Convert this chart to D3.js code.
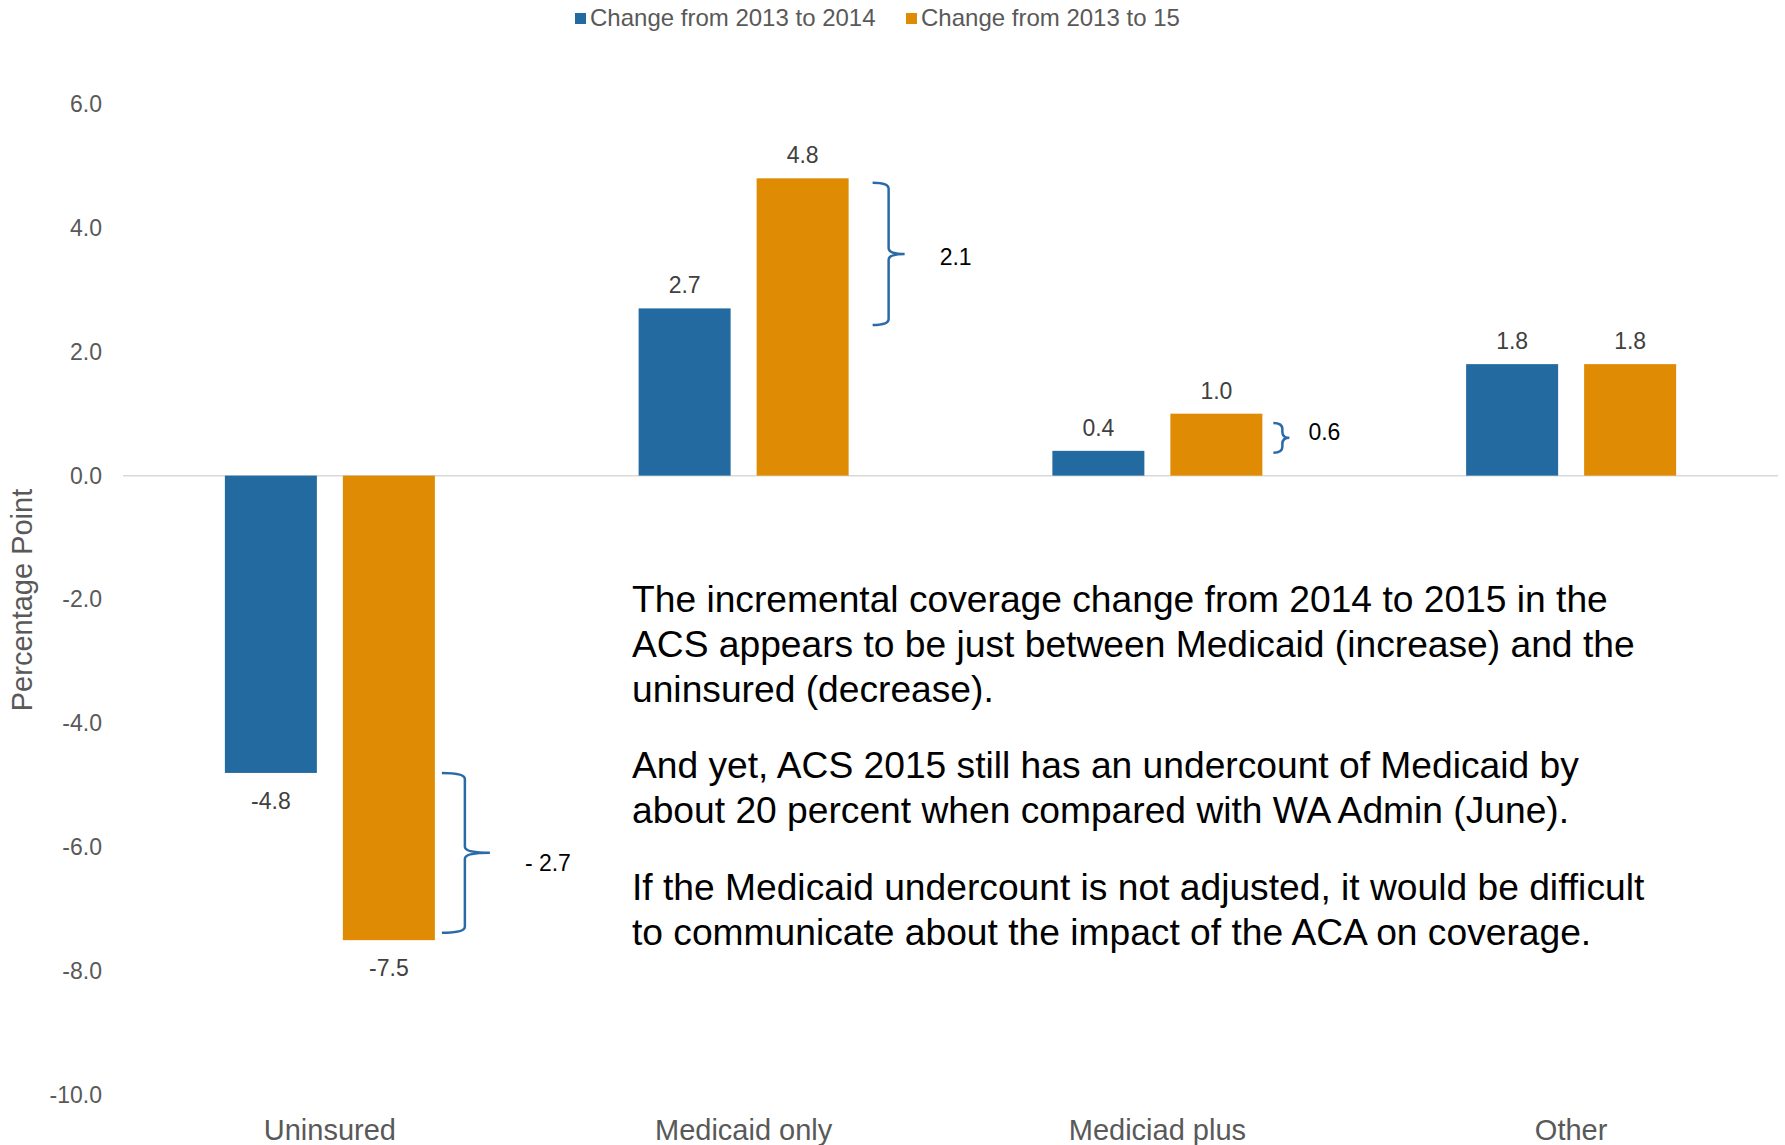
<!DOCTYPE html>
<meta charset="utf-8">
<style>
 body { margin: 0; background: #fff; }
 svg { font-family: "Liberation Sans", Arial, sans-serif; background: #fff; }
 .axis text { fill: #595959; }
 .note { font-size: 37.2px; fill: #000; }
</style>
<body>
<svg width="1785" height="1145"></svg>
<script src="https://d3js.org/d3.v7.min.js"></script>
<script>
// data
var categories = ["Uninsured", "Medicaid only", "Mediciad plus", "Other"];
var change2014 = [-4.8, 2.7, 0.4, 1.8];
var change2015 = [-7.5, 4.8, 1.0, 1.8];
var seriesNames = ["Change from 2013 to 2014", "Change from 2013 to 15"];
var seriesColors = ["#236aa1", "#df8b04"];
var yTicks = [-10, -8, -6, -4, -2, 0, 2, 4, 6];

// braces drawn next to the orange bars (value span + label)
var braceCats = ["Uninsured", "Medicaid only", "Mediciad plus"];
var braceTop = [-4.8, 4.73, 0.85];
var braceBottom = [-7.38, 2.43, 0.37];
var braceLabels = ["- 2.7", "2.1", "0.6"];

var notes = [
  ["The incremental coverage change from 2014 to 2015 in the",
   "ACS appears to be just between Medicaid (increase) and the",
   "uninsured (decrease)."],
  ["And yet, ACS 2015 still has an undercount of Medicaid by",
   "about 20 percent when compared with WA Admin (June)."],
  ["If the Medicaid undercount is not adjusted, it would be difficult",
   "to communicate about the impact of the ACA on coverage."]
];

var svg = d3.select("svg"),
    plotL = 123, plotR = 1778, plotT = 104, plotB = 1095;

var x = d3.scaleBand().domain(categories).range([plotL, plotR]);
var y = d3.scaleLinear().domain([-10, 6]).range([plotB, plotT]);
var barW = 92, gap = 26;
function barX(c, s) { return x(c) + x.bandwidth() / 2 - gap / 2 - barW + s * (barW + gap); }

// y axis
var yAxisG = svg.append("g")
    .attr("class", "axis")
    .attr("transform", "translate(" + plotL + ",0)")
    .call(d3.axisLeft(y).tickValues(yTicks).tickSize(0).tickPadding(21)
          .tickFormat(function(d) { return d.toFixed(1); }));
yAxisG.select(".domain").remove();
yAxisG.selectAll("text").style("font-size", "23px").style("font-family", "Liberation Sans, Arial, sans-serif");

// category labels
var xAxisG = svg.append("g")
    .attr("class", "axis")
    .attr("transform", "translate(0," + plotB + ")")
    .call(d3.axisBottom(x).tickSize(0).tickPadding(24));
xAxisG.select(".domain").remove();
xAxisG.selectAll("text").style("font-size", "29px").style("font-family", "Liberation Sans, Arial, sans-serif");

// zero line
svg.append("line")
    .attr("x1", plotL).attr("x2", plotR)
    .attr("y1", y(0)).attr("y2", y(0))
    .attr("stroke", "#d9d9d9").attr("stroke-width", 1.5);

svg.append("text")
    .attr("transform", "translate(32," + 600 + ") rotate(-90)")
    .attr("text-anchor", "middle")
    .style("font-size", "29px")
    .attr("fill", "#595959")
    .text("Percentage Point");

// bars + value labels
[change2014, change2015].forEach(function(vals, s) {
  var bars = svg.append("g");
  bars.selectAll("rect").data(vals).enter().append("rect")
      .attr("x", function(d, i) { return barX(categories[i], s); })
      .attr("y", function(d) { return y(Math.max(0, d)); })
      .attr("width", barW)
      .attr("height", function(d) { return Math.abs(y(d) - y(0)); })
      .attr("fill", seriesColors[s]);
  bars.selectAll("text").data(vals).enter().append("text")
      .attr("x", function(d, i) { return barX(categories[i], s) + barW / 2; })
      .attr("y", function(d) { return d >= 0 ? y(d) - 15 : y(d) + 36; })
      .attr("text-anchor", "middle")
      .attr("fill", "#404040")
      .style("font-size", "23px")
      .text(function(d) { return d.toFixed(1); });
});

// legend
var legendX = [575, 906];
seriesNames.forEach(function(n, i) {
  svg.append("rect").attr("x", legendX[i]).attr("y", 13).attr("width", 11).attr("height", 11)
     .attr("fill", seriesColors[i]);
  svg.append("text").attr("x", legendX[i] + 15).attr("y", 26)
     .attr("fill", "#595959").style("font-size", "24px").text(n);
});

// braces
var braceGap = [7, 24, 11], braceArm = [23, 16, 9], braceTip = [25, 16, 7],
    braceText = [35, 35, 19], braceDy = [18, 11, 2];
braceCats.forEach(function(c, i) {
  var x0 = barX(c, 1) + barW + braceGap[i],
      x1 = x0 + braceArm[i],
      xt = x1 + braceTip[i],
      y0 = y(braceTop[i]), y1 = y(braceBottom[i]), ym = (y0 + y1) / 2,
      r = Math.min(6, (y1 - y0) / 5);
  var p = d3.path();
  p.moveTo(x0, y0);
  p.quadraticCurveTo(x1, y0, x1, y0 + r);
  p.lineTo(x1, ym - r);
  p.quadraticCurveTo(x1, ym, xt, ym);
  p.quadraticCurveTo(x1, ym, x1, ym + r);
  p.lineTo(x1, y1 - r);
  p.quadraticCurveTo(x1, y1, x0, y1);
  svg.append("path").attr("d", p.toString())
     .attr("fill", "none").attr("stroke", "#2a6aa6").attr("stroke-width", 2.5);
  svg.append("text").attr("x", xt + braceText[i]).attr("y", ym + braceDy[i])
     .attr("fill", "#000").style("font-size", "23px").text(braceLabels[i]);
});

// note text
var noteTop = [612, 778, 900];
notes.forEach(function(lines, k) {
  var t = svg.append("text").attr("class", "note").attr("x", 632).attr("y", noteTop[k]);
  lines.forEach(function(l, j) {
    t.append("tspan").attr("x", 632).attr("y", noteTop[k] + j * 45).text(l);
  });
});
</script>
</body>
